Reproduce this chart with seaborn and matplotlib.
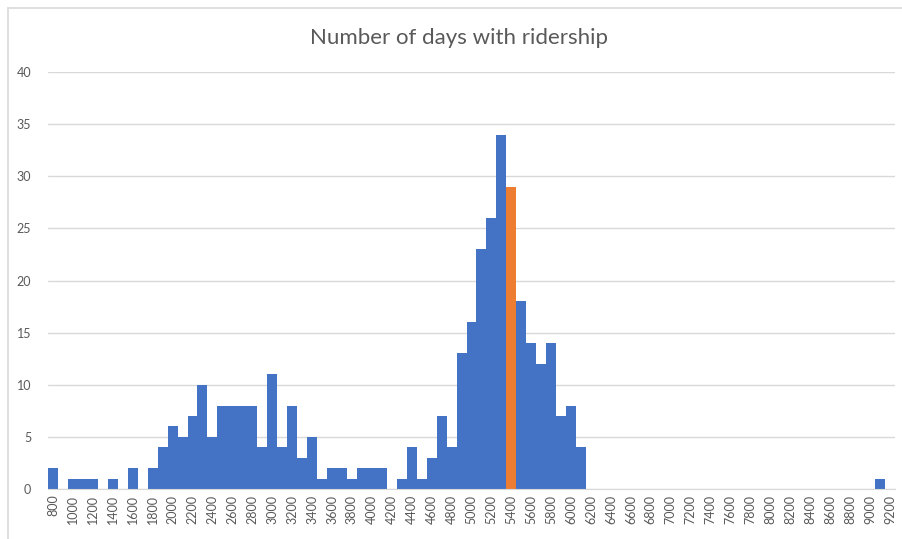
import matplotlib.pyplot as plt
import matplotlib.lines as mlines
import pandas as pd
import seaborn as sns

bins = list(range(800, 9300, 100))
counts = [2, 0, 1, 1, 1, 0, 1, 0, 2, 0,      # 800 - 1700
          2, 4, 6, 5, 7, 10, 5, 8, 8, 8,     # 1800 - 2700
          8, 4, 11, 4, 8, 3, 5, 1, 2, 2,     # 2800 - 3700
          1, 2, 2, 2, 0, 1, 4, 1, 3, 7,      # 3800 - 4700
          4, 13, 16, 23, 26, 34, 29, 18, 14, 12,  # 4800 - 5700
          14, 7, 8, 4, 0, 0, 0, 0, 0, 0,     # 5800 - 6700
          0, 0, 0, 0, 0, 0, 0, 0, 0, 0,      # 6800 - 7700
          0, 0, 0, 0, 0, 0, 0, 0, 0, 0,      # 7800 - 8700
          0, 0, 0, 1, 0]                     # 8800 - 9200
highlight = 5400

df = pd.DataFrame({'Bin': [str(b) for b in bins], 'Days': counts})
colors = {str(b): ('#ED7D31' if b == highlight else '#4472C4') for b in bins}

sns.set_style('white')
plt.rcParams['font.family'] = ['Lato', 'DejaVu Sans']

fig = plt.figure(figsize=(9.03, 5.39), dpi=100)
ax = fig.add_axes([48 / 903, 50 / 539, 847 / 903, 417 / 539])

sns.barplot(data=df, x='Bin', y='Days', hue='Bin', palette=colors,
            width=1.0, legend=False, saturation=1, linewidth=0, ax=ax)

ax.set_ylim(0, 40)
ax.set_yticks(range(0, 45, 5))
ax.set_xlim(-0.5, len(bins) - 0.5)
ax.set_xticks(range(0, len(bins), 2))
ax.set_xticklabels([str(b) for b in bins[::2]], rotation=90)
ax.tick_params(axis='both', length=0, colors='#595959', labelsize=9)
ax.tick_params(axis='x', pad=4)
ax.tick_params(axis='y', pad=12)
ax.yaxis.grid(True, color='#D9D9D9', linewidth=1)
ax.set_axisbelow(True)
for s in ['top', 'right', 'left']:
    ax.spines[s].set_visible(False)
ax.spines['bottom'].set_color('#D9D9D9')
ax.set_xlabel('')
ax.set_ylabel('')

fig.text(459 / 903, 1 - 38 / 539, 'Number of days with ridership',
         ha='center', va='center', fontsize=16, color='#595959')

# chart border
fig.add_artist(mlines.Line2D([8 / 903, 8 / 903], [0, 1 - 8 / 539], color='#D9D9D9', linewidth=1.2))
fig.add_artist(mlines.Line2D([8 / 903, 1], [1 - 8 / 539, 1 - 8 / 539], color='#D9D9D9', linewidth=1.2))

fig.savefig('out.png', dpi=100)
